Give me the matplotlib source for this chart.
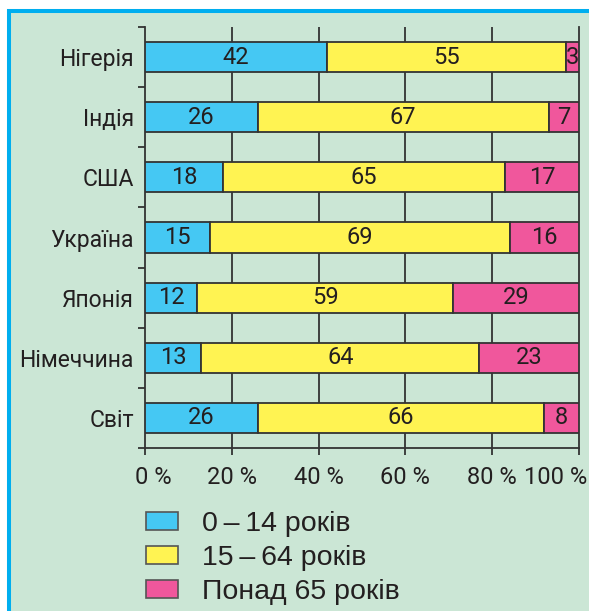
import numpy as np
import matplotlib.pyplot as plt
from matplotlib.patches import Patch, Rectangle
from matplotlib.transforms import ScaledTranslation

# дані: вікова структура населення, %
countries = ['Нігерія', 'Індія', 'США', 'Україна', 'Японія', 'Німеччина', 'Світ']
young = [42, 26, 18, 15, 12, 13, 26]
adult = [55, 67, 65, 69, 59, 64, 66]
old = [3, 7, 17, 16, 29, 23, 8]
groups = ['0\u2009–\u200914 років', '15\u2009–\u200964 років', 'Понад 65 років']
xticks = [0, 20, 40, 60, 80, 100]

colors = ['#45c8f3', '#fff352', '#f0579c']
bg = '#cbe6d5'
dark = '#231f20'
narrow = ['Roboto', 'DejaVu Sans']

W, H = 589, 611
fig = plt.figure(figsize=(W / 100, H / 100), dpi=100, facecolor='white')

# рамка
fig.patches.append(Rectangle((9 / W, -0.05), 1.1, (H - 11) / H + 0.05, transform=fig.transFigure,
                             facecolor=bg, edgecolor='#00aeef', linewidth=2.9, zorder=-10))

ax = fig.add_axes([145 / W, 1 - 448 / H, (579 - 145) / W, (448 - 27) / H])
ax.set_facecolor('none')

y = np.arange(len(countries)) + 0.5
left = np.zeros(len(countries))
for vals, c in zip([young, adult, old], colors):
    bars = ax.barh(y, vals, left=left, height=0.5, color=c, edgecolor='#333333', linewidth=1.3, zorder=3)
    ax.bar_label(bars, labels=[str(v) for v in vals], label_type='center',
                 fontsize=17, color=dark, family=narrow)
    left += np.array(vals)

ax.set_xlim(0, 100)
ax.set_ylim(len(countries), 0)

for xv in xticks[1:-1]:
    ax.axvline(xv, color='#333333', linewidth=1.3, zorder=1)

ax.spines['top'].set_visible(False)
for s in ['left', 'right', 'bottom']:
    ax.spines[s].set_color('#333333')
    ax.spines[s].set_linewidth(1.3)

ax.set_xticks(xticks)
ax.set_xticklabels([f'{v} %' for v in xticks], fontsize=17, color=dark, family=narrow)
ax.tick_params(axis='x', length=5, width=1.3, color='#333333', pad=8)
# крайні підписи трохи зсунуті всередину
xl = ax.get_xticklabels()
xl[0].set_transform(xl[0].get_transform() + ScaledTranslation(8 / 100, 0, fig.dpi_scale_trans))
xl[-1].set_transform(xl[-1].get_transform() + ScaledTranslation(-23 / 100, 0, fig.dpi_scale_trans))

ax.set_yticks(np.arange(len(countries) + 1))
ax.set_yticklabels([])
ax.tick_params(axis='y', which='major', length=5, width=1.3, color='#333333')
ax.set_yticks(y, minor=True)
ax.set_yticklabels(countries, minor=True, fontsize=16.5, color=dark, family=narrow)
ax.tick_params(axis='y', which='minor', length=0, pad=8)

handles = [Patch(facecolor=c, edgecolor='#555555', linewidth=1.2) for c in colors]
fig.legend(handles, groups, loc='upper left', bbox_to_anchor=(146 / W, 1 - 511 / H),
           frameon=False, borderpad=0, borderaxespad=0, handlelength=1.12, handleheight=0.6,
           handletextpad=0.85, labelspacing=0.28,
           prop={'family': ['Liberation Sans', 'DejaVu Sans'], 'size': 20.5}, labelcolor=dark)

fig.savefig('out.png', dpi=100, facecolor='white')
